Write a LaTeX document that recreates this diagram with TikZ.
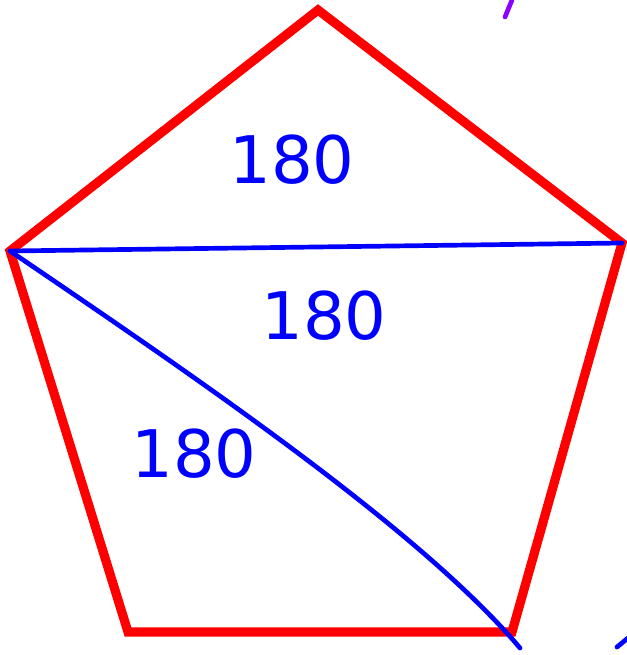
\documentclass[tikz,border=0pt]{standalone}
\usepackage{fontspec}
\setmainfont{DejaVu Sans}
\definecolor{stiftlila}{RGB}{140,0,255}
\begin{document}
\begin{tikzpicture}[x=0.03cm, y=-0.03cm,
    side/.style={red, line width=7.8pt, line join=miter},
    diag/.style={blue, line width=4pt, line cap=round},
    angsum/.style={blue, font=\fontsize{56}{56}\selectfont}]
    \useasboundingbox (0, 0) rectangle (627, 655);

    % Ecken
    \coordinate (A) at (318, 10);
    \coordinate (B) at (622, 243);
    \coordinate (C) at (512, 632);
    \coordinate (D) at (128, 632);
    \coordinate (E) at (10, 251);
    \coordinate (Cend) at (520, 648);

    \draw[side] (A) -- (B) -- (C) -- (D) -- (E) -- cycle;

    % Diagonalen
    \draw[diag] (E) .. controls (200, 380) and (420, 530) .. (Cend);
    \draw[diag] (E) -- (B);

    \node[angsum] (t1) at (292, 160) {180};
    \node[angsum] (t2) at (324, 316) {180};
    \node[angsum] (t3) at (194, 454) {180};

    % Striche am Rand
    \coordinate (p1) at (512, 0);
    \coordinate (p2) at (505, 17);
    \draw[stiftlila, line width=4pt, line cap=round] (p1) -- (p2);
    \coordinate (q1) at (628, 638);
    \coordinate (q2) at (617, 647);
    \draw[diag] (q1) -- (q2);
\end{tikzpicture}
\end{document}
